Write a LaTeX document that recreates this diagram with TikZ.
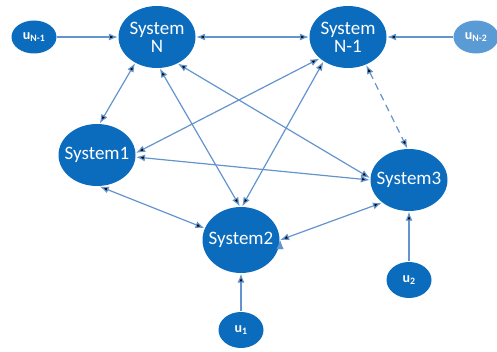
\documentclass[tikz,border=0pt]{standalone}
\usepackage{fontspec}
\setmainfont{Carlito}
\usetikzlibrary{shapes.geometric, arrows.meta}
\definecolor{sysblue}{RGB}{11,108,190}
\definecolor{inblue}{RGB}{91,155,213}
\definecolor{linkblue}{RGB}{100,148,206}

\begin{document}
\begin{tikzpicture}[x=1pt, y=1pt, >={Latex[length=9pt,width=7pt]}, line width=1.2pt,
                system/.style={ellipse, fill=sysblue, text=white, inner xsep=-10pt, inner ysep=0pt,
                    minimum width=77pt, minimum height=62pt, align=center,
                    font=\fontsize{19}{18}\selectfont},
                input/.style={ellipse, fill=sysblue, text=white, inner sep=0pt,
                    minimum width=45pt, minimum height=33pt,
                    font=\fontsize{14}{15}\selectfont\bfseries},
                link/.style={draw=linkblue}]

                \useasboundingbox (0,0) rectangle (497,351);

                \node[input] (uN1) at (34,314) {u\textsubscript{N-1}};
                \node[system] (sN) at (157,314) {System\\N};
                \node[system] (sN1) at (348,314) {System\\N-1};
                \node[input, fill=inblue] (uN2) at (476,314) {u\textsubscript{N-2}};
                \node[system] (s1) at (97,196) {System1};
                \node[system] (s3) at (409,171) {System3};
                \node[system, minimum height=66pt] (s2) at (241,111) {System2};
                \node[input, minimum height=36pt] (u1) at (241,21) {u\textsubscript{1}};
                \node[input, minimum height=36pt] (u2) at (409,71) {u\textsubscript{2}};

                \path[->, link]
                (uN1) edge (sN)
                (uN2) edge (sN1)
                (u1) edge (s2)
                (u2) edge (s3);

                \path[<->, link]
                (sN) edge (sN1)
                (sN.230) edge (s1.85)
                (sN.275) edge (s2.92)
                (sN.-52) edge (s3.177)
                (sN1.217) edge (s1.3)
                (sN1.225) edge (s2.88)
                (sN1.-57) edge [dash pattern=on 7pt off 5pt] (s3.93)
                (s1.-3) edge (s3.180)
                (s1.-85) edge (s2.162)
                (s2.0) edge (s3.220);
            \end{tikzpicture}
\end{document}
